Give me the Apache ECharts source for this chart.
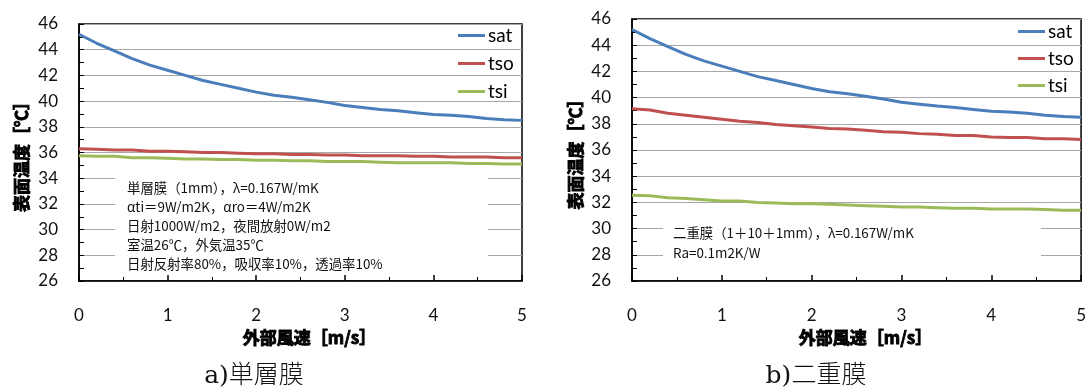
<!DOCTYPE html>
<html>
<head>
<meta charset="utf-8">
<script src="https://cdn.jsdelivr.net/npm/echarts@6/dist/echarts.min.js"></script>
<style>
  html, body { margin: 0; padding: 0; background: #fff; }
  #chart { width: 1089px; height: 388px; }
</style>
</head>
<body>
<div id="chart"></div>
<script>
// Outdoor wind speed [m/s]
const windSpeed = [0, 0.2, 0.4, 0.6, 0.8, 1.0, 1.2, 1.4, 1.6, 1.8, 2.0, 2.2, 2.4,
  2.6, 2.8, 3.0, 3.2, 3.4, 3.6, 3.8, 4.0, 4.2, 4.4, 4.6, 4.8, 5.0];

// Sol-air temperature (same outdoor conditions for both membranes)
const satValues = [45.2, 44.5, 43.9, 43.3, 42.8, 42.4, 42.0, 41.6, 41.3, 41.0, 40.7,
  40.45, 40.3, 40.1, 39.9, 39.65, 39.5, 39.35, 39.25, 39.1, 38.95, 38.9, 38.8, 38.65,
  38.55, 38.5];

// a) single-layer membrane
const tsoSingle = [36.3, 36.25, 36.2, 36.2, 36.1, 36.1, 36.05, 36.0, 36.0, 35.95, 35.9,
  35.9, 35.85, 35.85, 35.8, 35.8, 35.75, 35.75, 35.75, 35.7, 35.7, 35.65, 35.65, 35.65,
  35.6, 35.6];
const tsiSingle = [35.75, 35.7, 35.7, 35.6, 35.6, 35.55, 35.5, 35.5, 35.45, 35.45, 35.4,
  35.4, 35.35, 35.35, 35.3, 35.3, 35.3, 35.25, 35.2, 35.2, 35.2, 35.2, 35.15, 35.15,
  35.1, 35.1];

// b) double-layer membrane
const tsoDouble = [39.15, 39.05, 38.8, 38.65, 38.5, 38.35, 38.2, 38.1, 37.95, 37.85, 37.75,
  37.65, 37.6, 37.5, 37.4, 37.35, 37.25, 37.2, 37.1, 37.1, 37.0, 36.95, 36.95, 36.85,
  36.85, 36.8];
const tsiDouble = [32.55, 32.5, 32.35, 32.3, 32.2, 32.1, 32.1, 32.0, 31.95, 31.9, 31.9,
  31.85, 31.8, 31.75, 31.7, 31.65, 31.65, 31.6, 31.55, 31.55, 31.5, 31.5, 31.5, 31.45,
  31.4, 31.4];

const seriesNames = ['sat', 'tso', 'tsi'];
const seriesColors = ['#4a7ebb', '#c0504d', '#9bbb59'];

const xAxisTitle = '外部風速［m/s］';
const yAxisTitle = '表面温度［℃］';
const captionA = 'a)単層膜';
const captionB = 'b)二重膜';
const noteA = [
  '単層膜（1mm），λ=0.167W/mK',
  'αti＝9W/m2K，αro＝4W/m2K',
  '日射1000W/m2，夜間放射0W/m2',
  '室温26℃，外気温35℃',
  '日射反射率80%，吸収率10%，透過率10%'
];
const noteB = [
  '二重膜（1＋10＋1mm），λ=0.167W/mK',
  'Ra=0.1m2K/W'
];

const pairs = (ys) => windSpeed.map((x, i) => [x, ys[i]]);

const numFont = 'Lato, "Noto Sans", sans-serif';
const jpFont = '"Noto Sans CJK JP", sans-serif';

// heavy gothic look for the axis titles
const titleStyle = {
  fontFamily: jpFont, fontWeight: 'bold', fontSize: 17, color: '#000',
  textBorderColor: '#000', textBorderWidth: 0.9
};

function xAxisFor(gridIndex) {
  return {
    type: 'value', gridIndex, min: 0, max: 5, interval: 1,
    name: xAxisTitle, nameLocation: 'middle', nameGap: 43,
    nameTextStyle: Object.assign({ padding: [0, 0, 0, 18] }, titleStyle),
    axisLine: { show: true, onZero: false, lineStyle: { color: '#000', width: 1.5 } },
    axisTick: { show: true, inside: true, length: 6, lineStyle: { color: '#000', width: 1.5 } },
    minorTick: { show: true, splitNumber: 2, length: 4, lineStyle: { color: '#000', width: 1 } },
    axisLabel: { margin: 26, fontFamily: numFont, fontSize: 17, color: '#111' },
    splitLine: { show: false }
  };
}

function yAxisFor(gridIndex, gap) {
  return {
    type: 'value', gridIndex, min: 26, max: 46, interval: 2,
    name: yAxisTitle, nameLocation: 'middle', nameGap: gap, nameRotate: 90,
    nameTextStyle: Object.assign({}, titleStyle),
    axisLine: { show: true, onZero: false, lineStyle: { color: '#000', width: 1.5 } },
    axisTick: { show: true, inside: true, length: 5, lineStyle: { color: '#000', width: 1 } },
    minorTick: { show: true, splitNumber: 2, length: 5, lineStyle: { color: '#000', width: 1 } },
    axisLabel: { margin: 21, fontFamily: numFont, fontSize: 17, color: '#111' },
    splitLine: { show: true, lineStyle: { color: '#a8a8a8', width: 1.2 } }
  };
}

function lineSeries(name, ys, axisIndex) {
  const idx = seriesNames.indexOf(name);
  return {
    type: 'line', name, data: pairs(ys),
    xAxisIndex: axisIndex, yAxisIndex: axisIndex,
    symbol: 'none', smooth: false, z: 3,
    lineStyle: { color: seriesColors[idx], width: 3 },
    itemStyle: { color: seriesColors[idx] }
  };
}

function legendAt(left, top, gap) {
  return {
    data: seriesNames.map((n) => ({ name: n, icon: 'rect' })),
    orient: 'vertical', left, top,
    itemWidth: 27, itemHeight: 3, itemGap: gap, selectedMode: false,
    textStyle: { fontFamily: numFont, fontSize: 19, color: '#000', padding: [0, 0, 0, -2] }
  };
}

function noteBlock(x, y, w, h, lines, textX, textY, lh) {
  return [
    { type: 'rect', z: 1, shape: { x, y, width: w, height: h }, style: { fill: '#fff' }, silent: true },
    {
      type: 'text', z: 4, x: textX, y: textY,
      style: {
        text: lines.join('\n'), fontFamily: jpFont, fontSize: 13.4, lineHeight: lh,
        fill: '#111', textVerticalAlign: 'top'
      }
    }
  ];
}

const chart = echarts.init(document.getElementById('chart'), null, { renderer: 'canvas' });

chart.setOption({
  animation: false,
  backgroundColor: '#fff',
  grid: [
    { left: 79, right: 567, top: 24, bottom: 107, show: true, borderColor: '#000', borderWidth: 1.5, backgroundColor: 'transparent' },
    { left: 632, right: 7, top: 19, bottom: 107, show: true, borderColor: '#000', borderWidth: 1.5, backgroundColor: 'transparent' }
  ],
  xAxis: [xAxisFor(0), xAxisFor(1)],
  yAxis: [yAxisFor(0, 49), yAxisFor(1, 48)],
  legend: [legendAt(453, 21, 9), legendAt(1013, 17, 8)],
  series: [
    lineSeries('sat', satValues, 0),
    lineSeries('tso', tsoSingle, 0),
    lineSeries('tsi', tsiSingle, 0),
    lineSeries('sat', satValues, 1),
    lineSeries('tso', tsoDouble, 1),
    lineSeries('tsi', tsiDouble, 1)
  ],
  graphic: [
    ...noteBlock(115, 170, 373, 104, noteA, 127, 178, 19),
    ...noteBlock(663, 212, 378, 62, noteB, 673, 223, 20),
    {
      type: 'text', x: 254, y: 376,
      style: { text: captionA, fontFamily: '"DejaVu Serif", "Noto Sans CJK JP", serif', fontWeight: 300, fontSize: 25, fill: '#111', textAlign: 'center', textVerticalAlign: 'middle' }
    },
    {
      type: 'text', x: 816, y: 376,
      style: { text: captionB, fontFamily: '"DejaVu Serif", "Noto Sans CJK JP", serif', fontWeight: 300, fontSize: 25, fill: '#111', textAlign: 'center', textVerticalAlign: 'middle' }
    }
  ]
});
</script>
</body>
</html>
